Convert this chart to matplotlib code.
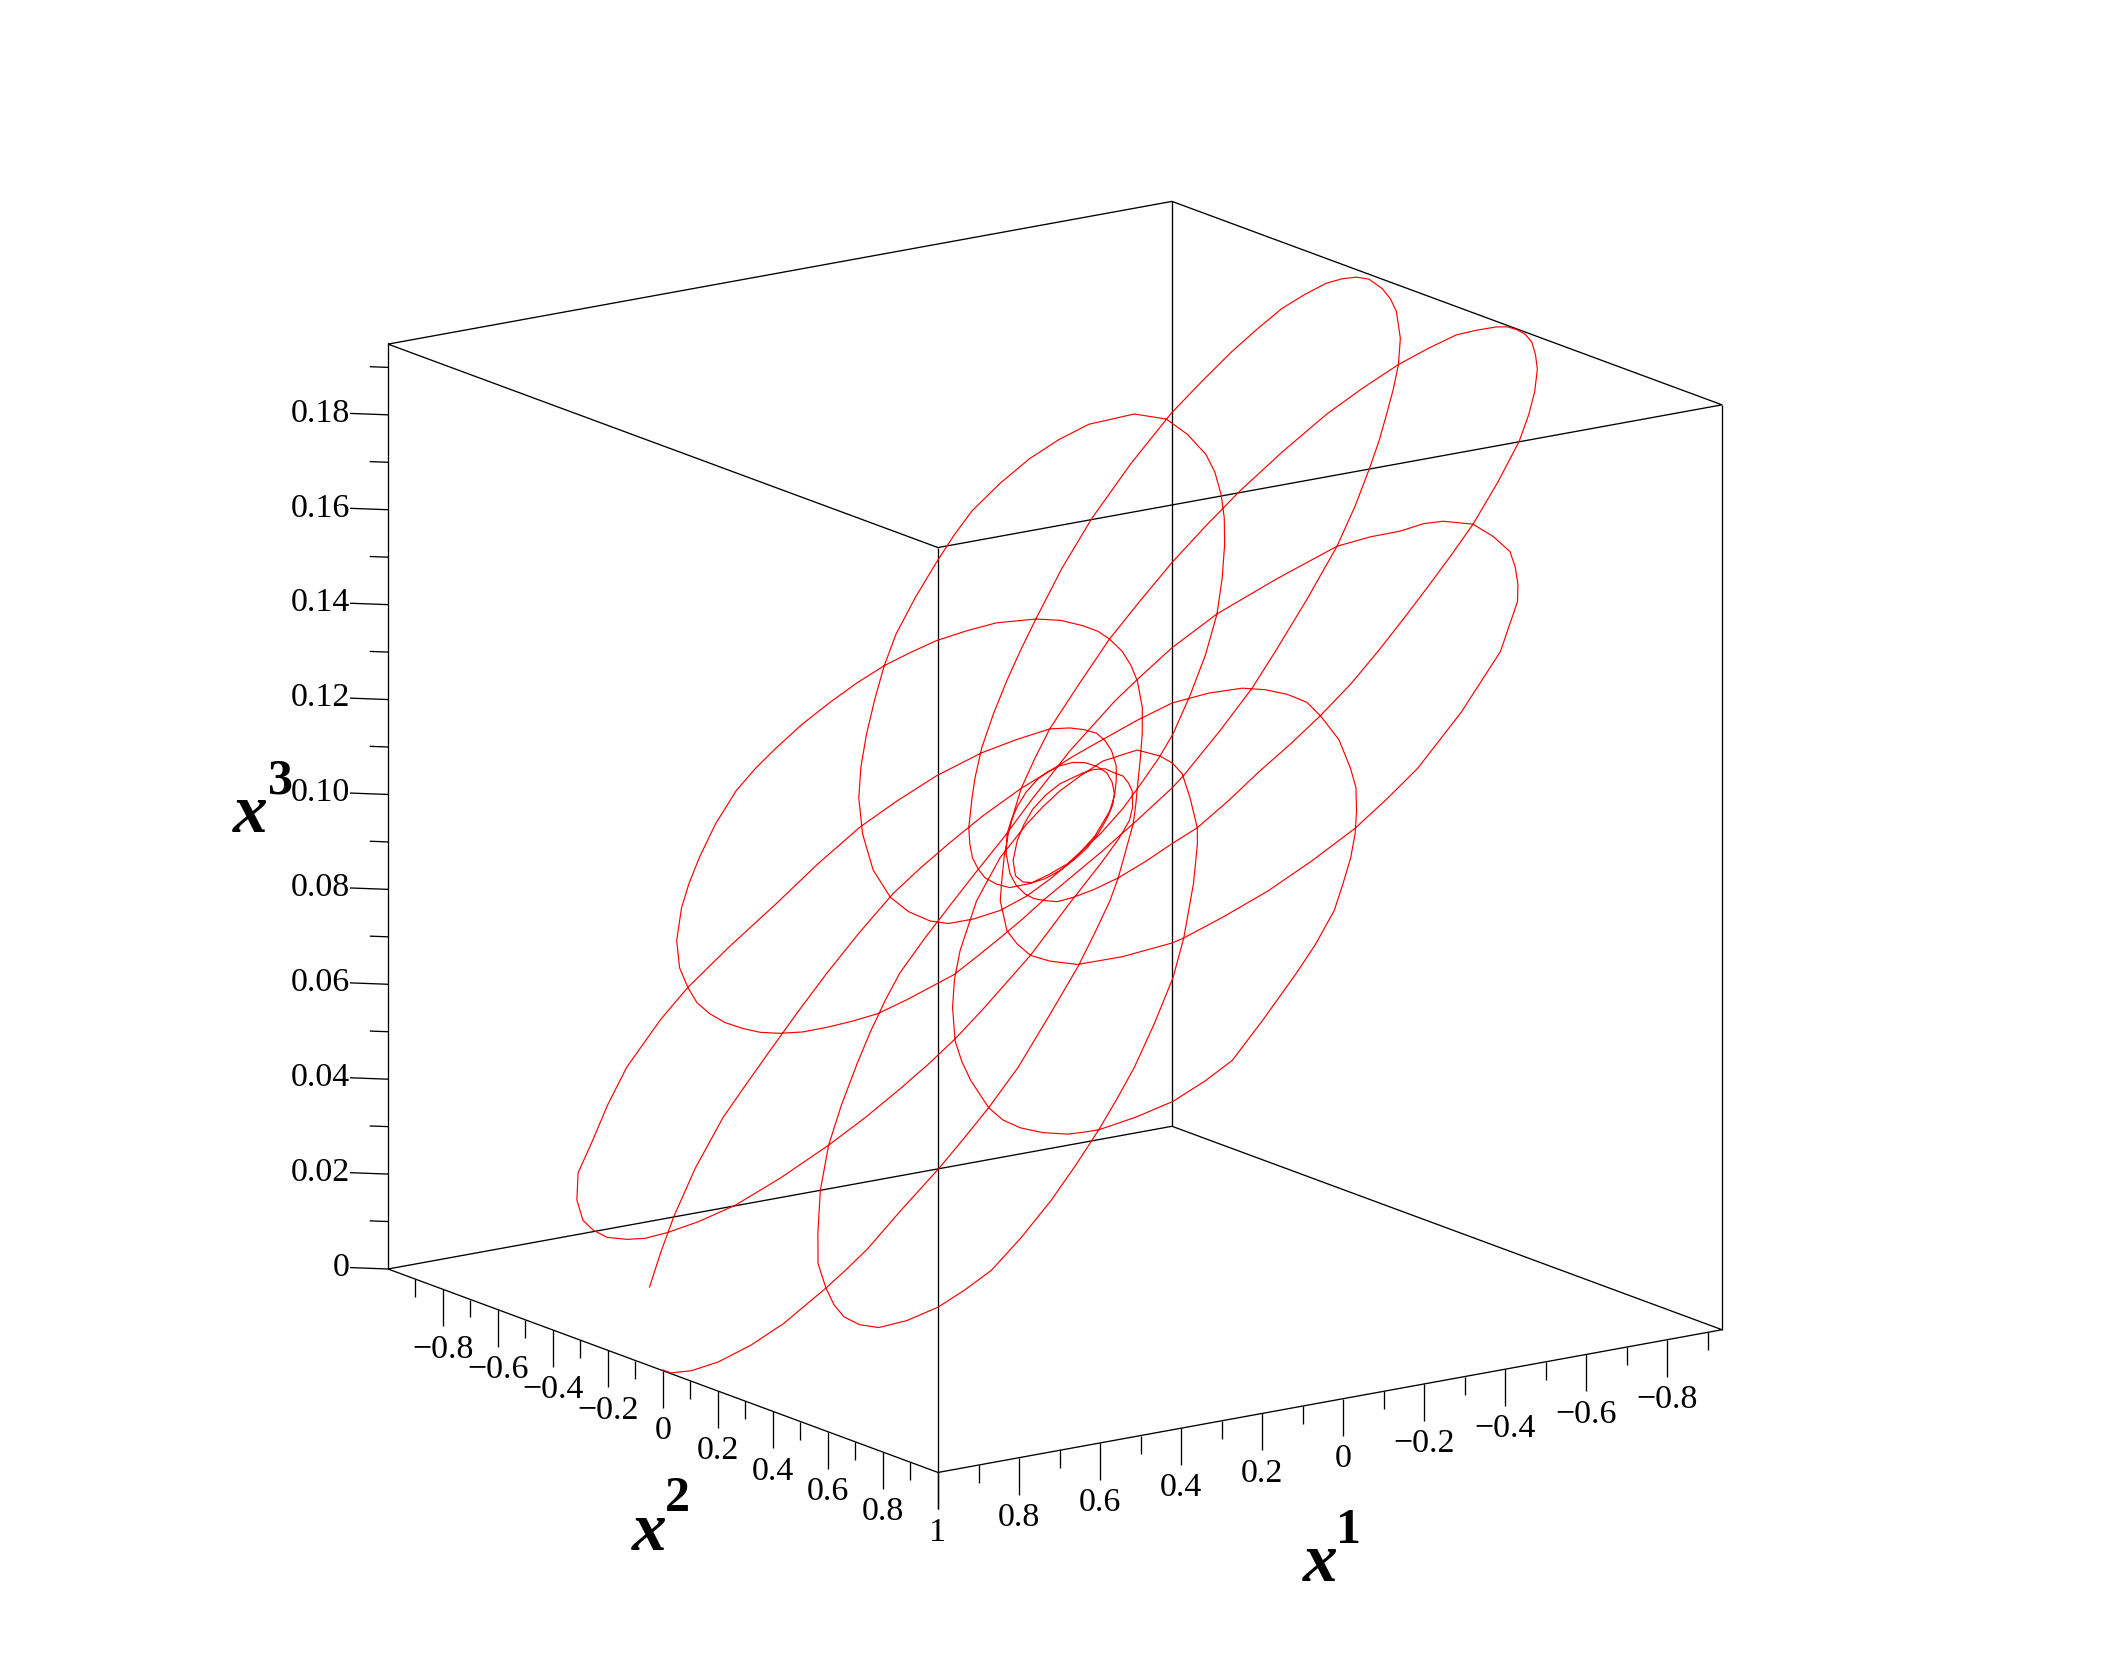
import numpy as np
import matplotlib
matplotlib.use('Agg')
import matplotlib.pyplot as plt
from mpl_toolkits.mplot3d import proj3d

plt.rcParams['font.family'] = ['Liberation Serif', 'DejaVu Serif']

# Curve values, in the order the curve runs
x1_curve = [.999, .999, .985, .959, .919, .871, .800, .763, .723, .653, .574, .519,
            .463, .391, .300, .218, .165, .111, .074, -.009, -.038, -.067, -.104, -.140,
            -.177, -.211, -.230, -.245, -.256, -.261, -.261, -.257, -.246, -.220, -.194, -.164,
            -.134, -.102, -.063, -.022, .023, .069, .109, .150, .207, .263, .304, .342,
            .390, .427, .450, .467, .476, .480, .479, .476, .467, .453, .434, .413,
            .389, .354, .316, .295, .257, .218, .182, .145, .091, .048, -.016, -.080,
            -.105, -.185, -.261, -.324, -.415, -.504, -.569, -.630, -.674, -.714, -.753, -.790,
            -.828, -.863, -.878, -.888, -.894, -.891, -.881, -.866, -.839, -.808, -.767, -.722,
            -.664, -.604, -.513, -.416, -.330, -.247, -.196, -.144, -.090, -.037, .008, .037,
            .081, .103, .122, .134, .143, .146, .144, .127, .106, .081, .022, -.027,
            -.075, -.115, -.155, -.217, -.283, -.347, -.399, -.448, -.485, -.516, -.544, -.564,
            -.583, -.593, -.584, -.546, -.509, -.467, -.417, -.364, -.320, -.273, -.213, -.152,
            -.102, -.050, .003, .052, .096, .145, .190, .219, .230, .232, .226, .207,
            .181, .147, .111, .068, .028, -.015, -.040, -.061, -.082, -.100, -.111, -.117,
            -.116, -.111, -.099, -.066, -.030, .025, .081, .137, .211, .287, .371, .450,
            .510, .594, .656, .714, .767, .806, .831, .839, .842, .835, .824, .805,
            .773, .731, .669, .598, .541, .481, .433, .384, .328, .228, .131, .062,
            .019, -.012, -.032, -.055, -.064, -.071, -.071, -.072, -.065, -.055, -.028, -.004,
            .022, .048, .074, .104, .124, .129, .125, .113, .093, .071, .048, .021,
            -.004, -.026, -.042, -.057, -.067, -.071, -.070, -.064, -.053, -.038, -.023, .002,
            .026, .049, .070, .098, .124, .137, .145, .147, .144, .139, .125, .103,
            .074, .037, -.002, -.037, -.091, -.149, -.204, -.258, -.318, -.379, -.436, -.493,
            -.549, -.605, -.677, -.745, -.787, -.823, -.856, -.875, -.891, -.898, -.900, -.899,
            -.893, -.879, -.862, -.829, -.790, -.739, -.684, -.608, -.531, -.463, -.395, -.326,
            -.256, -.178, -.099, -.050, -.001, .035, .069, .102, .134, .167, .206, .219,
            .228, .226, .216, .182, .137, .124, .073, .015, -.050, -.118, -.177, -.235,
            -.335, -.441, -.520, -.544, -.567, -.586, -.598, -.605, -.594, -.580, -.558, -.534,
            -.504, -.427, -.347, -.276, -.214, -.172, -.079, .006, .074, .149, .195, .257,
            .320, .366, .418, .469, .536, .598, .666, .727, .770, .800, .819, .831,
            .834, .828, .804, .769, .731, .689, .628, .561, .499, .437, .385, .331,
            .260, .185, .124, .043, -.015, -.037, -.075, -.105, -.115, -.118, -.115, -.082,
            -.051, -.018, .013, .046, .107, .180, .258, .301, .341, .387, .412, .434,
            .463, .473, .475, .470, .459, .449, .437, .400, .359, .313, .270, .197,
            .117, .066, .008, -.033, -.074, -.111, -.143, -.176, -.200, -.234, -.258, -.270,
            -.271, -.266, -.256, -.232, -.199, -.156, -.108, -.074, -.040, -.001, .057, .112,
            .163, .213, .286, .359, .427, .496, .555, .614, .700, .779, .836, .890]
x2_curve = [-.002, .027, .081, .140, .200, .249, .298, .318, .336, .353, .375, .385,
            .393, .394, .377, .358, .338, .315, .291, .223, .190, .154, .109, .063,
            .009, -.059, -.110, -.164, -.227, -.277, -.331, -.405, -.478, -.585, -.653, -.721,
            -.771, -.819, -.862, -.900, -.934, -.960, -.977, -.986, -.977, -.954, -.931, -.902,
            -.849, -.784, -.720, -.662, -.603, -.540, -.477, -.418, -.360, -.298, -.237, -.178,
            -.119, -.064, -.011, .019, .048, .076, .100, .122, .159, .188, .226, .260,
            .268, .280, .284, .275, .258, .235, .205, .168, .138, .106, .073, .037,
            -.012, -.078, -.122, -.166, -.223, -.264, -.302, -.338, -.377, -.413, -.442, -.468,
            -.493, -.515, -.527, -.526, -.509, -.480, -.460, -.436, -.405, -.369, -.327, -.295,
            -.242, -.206, -.168, -.130, -.092, -.046, 0, .050, .084, .116, .149, .161,
            .162, .160, .152, .122, .082, .030, -.028, -.091, -.147, -.204, -.268, -.330,
            -.425, -.517, -.620, -.729, -.783, -.829, -.862, -.886, -.888, -.882, -.870, -.850,
            -.819, -.777, -.729, -.677, -.620, -.534, -.429, -.324, -.242, -.161, -.103, -.040,
            .020, .066, .098, .126, .138, .129, .110, .085, .054, .011, -.028, -.069,
            -.115, -.158, -.213, -.288, -.359, -.441, -.503, -.556, -.602, -.638, -.684, -.720,
            -.732, -.730, -.708, -.677, -.652, -.599, -.540, -.491, -.436, -.374, -.325, -.273,
            -.205, -.134, -.060, .010, .058, .100, .130, .155, .174, .199, .204, .212,
            .212, .205, .187, .152, .125, .095, .062, .028, -.002, -.027, -.071, -.088,
            -.096, -.090, -.076, -.047, -.009, .025, .054, .083, .109, .127, .140, .142,
            .136, .124, .106, .076, .042, 0, -.042, -.077, -.108, -.130, -.144, -.150,
            -.146, -.135, -.119, -.081, -.029, .012, .057, .092, .128, .165, .200, .245,
            .291, .335, .376, .415, .449, .478, .510, .537, .559, .570, .576, .580,
            .582, .581, .565, .542, .515, .484, .445, .410, .373, .338, .305, .272,
            .241, .192, .142, .090, .037, -.017, -.067, -.116, -.158, -.184, -.205, -.218,
            -.227, -.222, -.213, -.195, -.172, -.145, -.116, -.082, -.043, -.001, .081, .138,
            .199, .267, .353, .465, .581, .603, .675, .748, .812, .870, .900, .925,
            .935, .922, .868, .834, .790, .743, .665, .581, .488, .437, .386, .310,
            .235, .130, .030, -.029, -.063, -.084, -.110, -.119, -.121, -.130, -.135, -.140,
            -.140, -.126, -.103, -.076, -.035, .010, .080, .161, .225, .298, .355, .409,
            .470, .531, .597, .659, .700, .736, .755, .764, .762, .755, .744, .728,
            .696, .654, .603, .519, .448, .415, .333, .260, .210, .159, .081, .006,
            -.027, -.056, -.072, -.083, -.090, -.068, -.013, .030, .082, .159, .220, .285,
            .393, .460, .526, .600, .674, .715, .755, .835, .910, .960, .995, 1.0,
            1.0, .995, .979, .950, .918, .880, .838, .787, .732, .640, .537, .470,
            .397, .325, .256, .170, .085, .020, -.044, -.088, -.126, -.172, -.225, -.265,
            -.298, -.324, -.340, -.349, -.353, -.353, -.352, -.350, -.325, -.287, -.250, -.211]
x3_curve = [.0001, .0001, .0015, .0042, .0084, .0133, .0207, .0245, .0286, .0359, .0440, .0497,
            .0555, .0629, .0724, .0808, .0863, .0919, .0957, .1043, .1073, .1103, .1141, .1178,
            .1216, .1252, .1271, .1287, .1298, .1303, .1303, .1299, .1288, .1261, .1234, .1203,
            .1172, .1139, .1099, .1056, .1010, .0962, .0921, .0879, .0820, .0762, .0719, .0680,
            .0630, .0592, .0568, .0551, .0542, .0537, .0538, .0542, .0551, .0565, .0585, .0607,
            .0632, .0668, .0707, .0729, .0768, .0808, .0845, .0884, .0940, .0984, .1050, .1116,
            .1142, .1225, .1303, .1368, .1462, .1554, .1622, .1685, .1730, .1772, .1812, .1850,
            .1889, .1926, .1941, .1951, .1958, .1954, .1944, .1929, .1901, .1869, .1826, .1780,
            .1720, .1658, .1564, .1464, .1375, .1289, .1236, .1182, .1127, .1072, .1025, .0995,
            .0950, .0927, .0908, .0895, .0886, .0883, .0885, .0902, .0924, .0950, .1011, .1061,
            .1111, .1152, .1194, .1258, .1326, .1392, .1446, .1497, .1535, .1567, .1596, .1617,
            .1636, .1647, .1637, .1598, .1560, .1516, .1465, .1410, .1364, .1316, .1254, .1191,
            .1139, .1085, .1030, .0980, .0934, .0884, .0837, .0807, .0796, .0794, .0800, .0820,
            .0847, .0882, .0919, .0963, .1005, .1049, .1075, .1097, .1118, .1137, .1148, .1155,
            .1153, .1148, .1136, .1102, .1065, .1008, .0950, .0892, .0815, .0737, .0650, .0568,
            .0506, .0420, .0355, .0296, .0241, .0201, .0175, .0166, .0163, .0171, .0182, .0202,
            .0235, .0278, .0342, .0415, .0474, .0536, .0586, .0637, .0695, .0798, .0898, .0970,
            .1014, .1046, .1067, .1090, .1100, .1107, .1107, .1108, .1101, .1090, .1062, .1038,
            .1011, .0984, .0957, .0926, .0905, .0900, .0904, .0917, .0937, .0960, .0984, .1012,
            .1038, .1060, .1077, .1092, .1103, .1107, .1106, .1100, .1088, .1073, .1057, .1032,
            .1007, .0983, .0961, .0932, .0905, .0892, .0884, .0882, .0885, .0890, .0904, .0927,
            .0957, .0995, .1036, .1072, .1128, .1188, .1244, .1300, .1362, .1425, .1484, .1543,
            .1601, .1659, .1733, .1803, .1847, .1884, .1918, .1938, .1954, .1962, .1964, .1963,
            .1957, .1942, .1924, .1890, .1850, .1797, .1740, .1662, .1582, .1512, .1442, .1370,
            .1298, .1217, .1136, .1085, .1035, .0997, .0962, .0928, .0895, .0861, .0821, .0807,
            .0798, .0800, .0810, .0845, .0892, .0905, .0958, .1018, .1085, .1156, .1216, .1276,
            .1380, .1489, .1571, .1596, .1620, .1639, .1652, .1659, .1647, .1633, .1610, .1585,
            .1554, .1475, .1392, .1319, .1255, .1211, .1115, .1027, .0957, .0880, .0832, .0768,
            .0703, .0655, .0602, .0549, .0480, .0415, .0345, .0282, .0238, .0207, .0187, .0175,
            .0172, .0178, .0203, .0239, .0278, .0321, .0385, .0454, .0518, .0582, .0636, .0691,
            .0765, .0842, .0905, .0989, .1049, .1072, .1111, .1142, .1152, .1156, .1152, .1118,
            .1086, .1052, .1020, .0986, .0923, .0848, .0767, .0722, .0681, .0634, .0608, .0585,
            .0555, .0545, .0543, .0548, .0559, .0570, .0582, .0620, .0663, .0710, .0754, .0830,
            .0913, .0965, .1025, .1068, .1110, .1148, .1181, .1215, .1240, .1275, .1300, .1312,
            .1313, .1308, .1298, .1273, .1239, .1195, .1145, .1110, .1075, .1035, .0975, .0918,
            .0865, .0813, .0738, .0663, .0592, .0521, .0460, .0399, .0310, .0228, .0170, .0114]

# Axes
x1_min = -0.935
x3_top = 0.1949
x1_labels = [0.8, 0.6, 0.4, 0.2, 0, -0.2, -0.4, -0.6, -0.8]
x2_labels = [-0.8, -0.6, -0.4, -0.2, 0, 0.2, 0.4, 0.6, 0.8]
x3_labels = ['0', '0.02', '0.04', '0.06', '0.08', '0.10', '0.12', '0.14', '0.16', '0.18']
x12_ticks = np.arange(-9, 11) / 10
x3_ticks = np.arange(0, 20) / 100


def fmt(v):
    return '0' if v == 0 else f'{v:g}'.replace('-', '\u2212')


W, H = 2110, 1673
fig = plt.figure(figsize=(W / 100, H / 100), dpi=100, facecolor='white')
side = 1300
ax = fig.add_axes([0.1, 0.1, side / W, side / H], projection='3d', proj_type='ortho')
ax.set_box_aspect((1, 1, 1))
ax.view_init(elev=15.04, azim=54.95)
ax.set_xlim(x1_min, 1, view_margin=0)
ax.set_ylim(-1, 1, view_margin=0)
ax.set_zlim(0, x3_top, view_margin=0)
ax.set_axis_off()
ax.computed_zorder = False
ax.patch.set_alpha(0)


def to_px(x, y, z):
    ax.apply_aspect()
    xp, yp, _ = proj3d.proj_transform(x, y, z, ax.get_proj())
    return ax.transData.transform((xp, yp))


# Put the box on the picture by two of its floor corners
target_b = np.array([388, H - 1269])
target_c = np.array([1722, H - 1329])
b, c = to_px(1, -1, 0), to_px(x1_min, 1, 0)
side = side * (target_c[0] - target_b[0]) / (c[0] - b[0])
ax.set_position([0.1, 0.1, side / W, side / H])
shift = target_b - to_px(1, -1, 0)
ax.set_position([0.1 + shift[0] / W, 0.1 + shift[1] / H, side / W, side / H])

# Box
box = dict(color='black', lw=0.95, solid_capstyle='butt')
for z in (0, x3_top):
    ax.plot([1, 1, x1_min, x1_min, 1], [-1, 1, 1, -1, -1], [z] * 5, **box)
for x, y in ((1, -1), (1, 1), (x1_min, 1), (x1_min, -1)):
    ax.plot([x, x], [y, y], [0, x3_top], **box)

# Ticks hang straight down from the two floor axes
px_z = 926 / x3_top
for t in x12_ticks:
    drop = (37 if round(t * 10) % 2 == 0 else 18) / px_z
    ax.plot([t, t], [1, 1], [0, -drop], **box)
    ax.plot([1, 1], [t, t], [0, -drop], **box)

out1, out2 = 0.0565, 0.0549
for t in x3_ticks:
    f = 1.0 if round(t * 100) % 2 == 0 else 0.48
    ax.plot([1, 1 + out1 * f], [-1, -1 - out2 * f], [t, t], **box)

# Curve
ax.plot(x1_curve, x2_curve, x3_curve, color='#ff0000', lw=0.85, solid_joinstyle='round')


def label(x, y, z, s, ha='center'):
    px, py = to_px(x, y, z)
    fig.text(px / W, py / H, s, ha=ha, va='center', fontsize=24.5)


below = -60 / px_z
for v in x1_labels:
    label(v, 1, below, fmt(v))
for v in x2_labels:
    label(1, v, below, fmt(v))
label(1, 1, below, '1')
for t, s in zip(x3_ticks[::2], x3_labels):
    label(1 + out1, -1 - out2, t, s, ha='right')

# Axis names, x with a raised digit
names = [('1', 1320, 1564, 1348, 1531), ('2', 649, 1533, 677, 1499), ('3', 250, 815, 280, 782)]
for digit, xu, xv, du, dv in names:
    fig.text(xu / W, 1 - xv / H, 'x', fontsize=50, fontweight='bold', fontstyle='italic', ha='center', va='center')
    fig.text(du / W, 1 - dv / H, digit, fontsize=36, fontweight='bold', ha='center', va='center')

fig.savefig('out.png', dpi=100, facecolor='white')
